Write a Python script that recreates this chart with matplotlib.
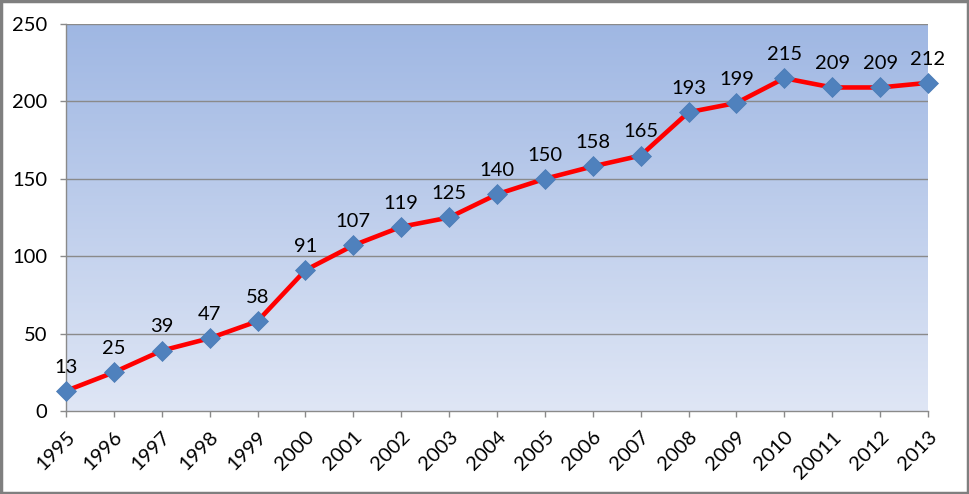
import numpy as np
import matplotlib.pyplot as plt
from matplotlib.patches import Rectangle
from matplotlib.colors import LinearSegmentedColormap

# datos
anios = ['1995', '1996', '1997', '1998', '1999', '2000', '2001', '2002', '2003', '2004',
         '2005', '2006', '2007', '2008', '2009', '2010', '20011', '2012', '2013']
valores = [13, 25, 39, 47, 58, 91, 107, 119, 125, 140,
           150, 158, 165, 193, 199, 215, 209, 209, 212]

plt.rcParams['font.family'] = ['Lato', 'DejaVu Sans']

fig = plt.figure(figsize=(9.7, 4.94), dpi=100)
ax = fig.add_axes([66/970, 83/494, 862/970, 387/494])

x = np.arange(len(anios))

# fondo degradado del area del grafico
fondo = LinearSegmentedColormap.from_list('fondo', ['#dfe6f5', '#9fb7e3'])
grad = np.linspace(0, 1, 256).reshape(-1, 1)
ax.imshow(grad, cmap=fondo, aspect='auto', origin='lower',
          extent=[0, len(anios) - 1, 0, 250], zorder=0)

for yv in [50, 100, 150, 200, 250]:
    ax.axhline(yv, color='#8a8a8a', lw=1, zorder=1)

ax.plot(x, valores, color='#ff0000', lw=3.3, zorder=3)
ax.plot(x, valores, 'D', ms=10.5, color='#4f81bd', mec='#4a7ab5', mew=0.5, zorder=4,
        clip_on=False)

for xi, v in zip(x, valores):
    ax.annotate(str(v), (xi, v), xytext=(0, 11), textcoords='offset points',
                ha='center', va='bottom', fontsize=14.5, color='black', zorder=5)

ax.set_xlim(0, len(anios) - 1)
ax.set_ylim(0, 250)
ax.set_yticks([0, 50, 100, 150, 200, 250])
ax.set_xticks(x)
ax.set_xticklabels(anios, rotation=45, ha='right', rotation_mode='anchor')
ax.tick_params(axis='both', labelsize=14.5, color='#8a8a8a', length=4.5, width=1)
ax.tick_params(axis='y', pad=9)
ax.tick_params(axis='x', pad=8)

for s in ['top', 'right']:
    ax.spines[s].set_visible(False)
for s in ['left', 'bottom']:
    ax.spines[s].set_color('#8a8a8a')
    ax.spines[s].set_linewidth(1)

# marco exterior
fig.patches.append(Rectangle((0.001, 0.002), 0.997, 0.996, transform=fig.transFigure,
                             fill=False, edgecolor='#7f7f7f', lw=2.5))

fig.savefig('out.png', dpi=100)
